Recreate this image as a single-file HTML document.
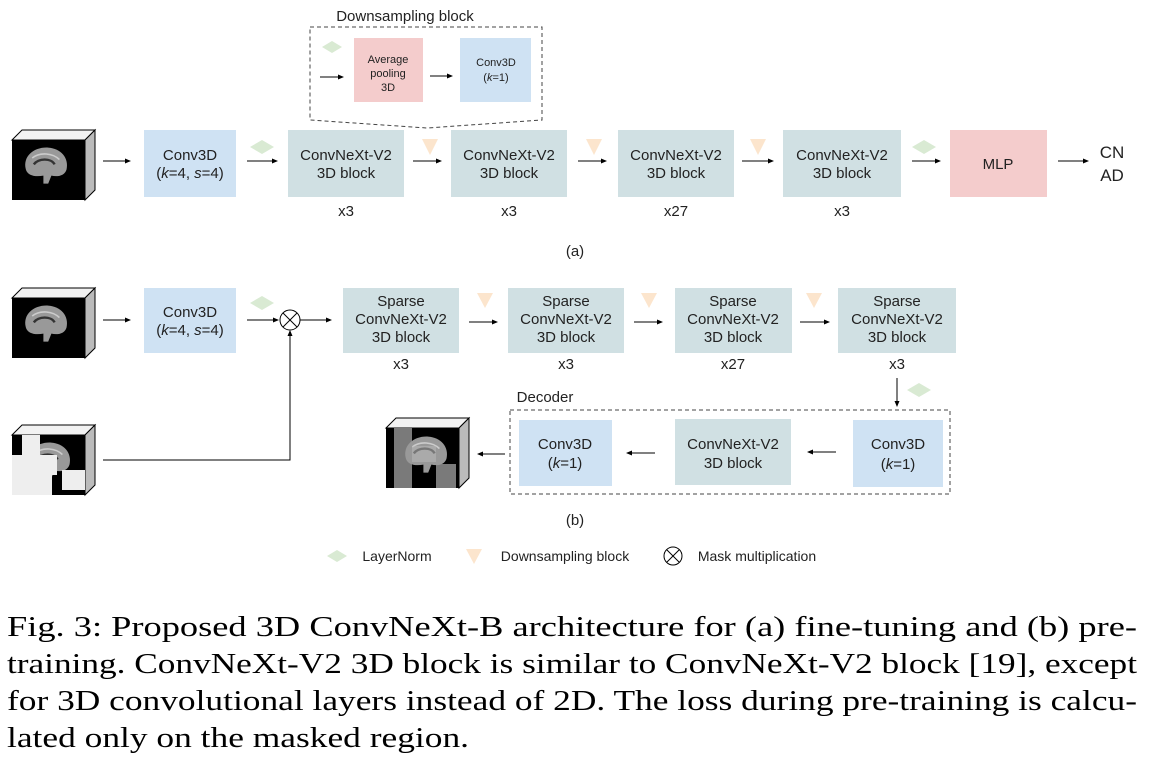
<!DOCTYPE html>
<html><head><meta charset="utf-8"><style>
html,body{margin:0;padding:0;background:#fff;}
svg{display:block;}
.t{font-family:"Liberation Sans",sans-serif;font-size:15px;fill:#222;text-anchor:middle;}
.s{font-family:"Liberation Sans",sans-serif;font-size:11px;fill:#222;text-anchor:middle;}
.c{font-family:"Liberation Serif",serif;font-size:28px;fill:#000;}
</style></head><body>
<svg width="1152" height="768" viewBox="0 0 1152 768" xmlns="http://www.w3.org/2000/svg">
<defs>
<marker id="ah" markerWidth="6" markerHeight="6" refX="5" refY="3" orient="auto" markerUnits="userSpaceOnUse"><path d="M0,0.5 L6,3 L0,5.5 z" fill="#000"/></marker>
<g id="brain" transform="scale(0.8)">
<path d="M-24,4 C-28,-12 -14,-24 4,-23 C20,-22 30,-10 27,4 C25,12 16,14 8,12 L4,22 L-2,22 L-2,12 C-12,14 -22,12 -24,4 z" fill="#999"/>
<path d="M-14,-2 C-8,-10 8,-10 12,-2" stroke="#333" stroke-width="3" fill="none"/>
<path d="M-16,-10 C-6,-18 10,-16 18,-8" stroke="#ccc" stroke-width="2" fill="none"/>
</g>
<g id="cube">
<polygon points="0,10 10,0 83,0 73,10" fill="#f2f2f2" stroke="#000" stroke-width="1"/>
<polygon points="73,10 83,0 83,60 73,70" fill="#bbb" stroke="#000" stroke-width="1"/>
<rect x="0" y="10" width="73" height="60" fill="#000"/>
</g>
</defs>

<!-- (a) -->
<use href="#cube" x="12" y="130"/>
<use href="#brain" x="45" y="166"/>
<line x1="103" y1="161" x2="130" y2="161" stroke="#000" marker-end="url(#ah)"/>
<rect x="144" y="130" width="92" height="67" fill="#cfe2f3"/>
<text class="t" x="190" y="160">Conv3D</text>
<text class="t" x="190" y="178">(<tspan font-style="italic">k</tspan>=4, <tspan font-style="italic">s</tspan>=4)</text>
<polygon points="262,140 274,147 262,154 250,147" fill="#d9ead3"/>
<line x1="247" y1="161" x2="277" y2="161" stroke="#000" marker-end="url(#ah)"/>
<rect x="288" y="130" width="116" height="67" fill="#d0e0e3"/>
<text class="t" x="346" y="160">ConvNeXt-V2</text><text class="t" x="346" y="178">3D block</text>
<text class="t" x="346" y="216">x3</text>
<polygon points="422,139 438,139 430,155" fill="#fce5cd"/>
<line x1="413" y1="161" x2="441" y2="161" stroke="#000" marker-end="url(#ah)"/>
<rect x="451" y="130" width="116" height="67" fill="#d0e0e3"/>
<text class="t" x="509" y="160">ConvNeXt-V2</text><text class="t" x="509" y="178">3D block</text>
<text class="t" x="509" y="216">x3</text>
<polygon points="586,139 602,139 594,155" fill="#fce5cd"/>
<line x1="578" y1="161" x2="606" y2="161" stroke="#000" marker-end="url(#ah)"/>
<rect x="618" y="130" width="116" height="67" fill="#d0e0e3"/>
<text class="t" x="676" y="160">ConvNeXt-V2</text><text class="t" x="676" y="178">3D block</text>
<text class="t" x="676" y="216">x27</text>
<polygon points="750,139 766,139 758,155" fill="#fce5cd"/>
<line x1="742" y1="161" x2="773" y2="161" stroke="#000" marker-end="url(#ah)"/>
<rect x="783" y="130" width="118" height="67" fill="#d0e0e3"/>
<text class="t" x="842" y="160">ConvNeXt-V2</text><text class="t" x="842" y="178">3D block</text>
<text class="t" x="842" y="216">x3</text>
<polygon points="924,140 936,147 924,154 912,147" fill="#d9ead3"/>
<line x1="912" y1="161" x2="940" y2="161" stroke="#000" marker-end="url(#ah)"/>
<rect x="950" y="130" width="97" height="67" fill="#f4cccc"/>
<text class="t" x="998" y="169">MLP</text>
<line x1="1058" y1="161" x2="1088" y2="161" stroke="#000" marker-end="url(#ah)"/>
<text class="t" x="1112" y="158" style="font-size:17px">CN</text>
<text class="t" x="1112" y="181" style="font-size:17px">AD</text>
<text class="t" x="575" y="256">(a)</text>

<!-- downsampling block -->
<text class="t" x="405" y="21">Downsampling block</text>
<path d="M310,27 L542,27 L542,120 L427,128 L310,120 Z" fill="none" stroke="#444" stroke-dasharray="4,3"/>
<polygon points="332,41 342,47 332,53 322,47" fill="#d9ead3"/>
<line x1="320" y1="77" x2="343" y2="77" stroke="#000" marker-end="url(#ah)"/>
<rect x="354" y="38" width="69" height="64" fill="#f4cccc"/>
<text class="s" x="388" y="63">Average</text><text class="s" x="388" y="77">pooling</text><text class="s" x="388" y="91">3D</text>
<line x1="430" y1="76" x2="452" y2="76" stroke="#000" marker-end="url(#ah)"/>
<rect x="460" y="38" width="71" height="64" fill="#cfe2f3"/>
<text class="s" x="496" y="66">Conv3D</text><text class="s" x="496" y="81">(<tspan font-style="italic">k</tspan>=1)</text>

<!-- (b) -->
<use href="#cube" x="12" y="288"/>
<use href="#brain" x="45" y="324"/>
<line x1="103" y1="320" x2="130" y2="320" stroke="#000" marker-end="url(#ah)"/>
<rect x="144" y="288" width="92" height="65" fill="#cfe2f3"/>
<text class="t" x="190" y="317">Conv3D</text>
<text class="t" x="190" y="335">(<tspan font-style="italic">k</tspan>=4, <tspan font-style="italic">s</tspan>=4)</text>
<polygon points="262,296 274,303 262,310 250,303" fill="#d9ead3"/>
<line x1="247" y1="320" x2="278" y2="320" stroke="#000" marker-end="url(#ah)"/>
<circle cx="290" cy="320" r="10" fill="none" stroke="#000"/>
<line x1="283" y1="313" x2="297" y2="327" stroke="#000"/><line x1="297" y1="313" x2="283" y2="327" stroke="#000"/>
<line x1="300" y1="320" x2="331" y2="320" stroke="#000" marker-end="url(#ah)"/>
<polyline points="103,460 290,460 290,331" fill="none" stroke="#000" marker-end="url(#ah)"/>

<rect x="343" y="288" width="116" height="65" fill="#d0e0e3"/>
<text class="t" x="401" y="306">Sparse</text><text class="t" x="401" y="324">ConvNeXt-V2</text><text class="t" x="401" y="342">3D block</text>
<text class="t" x="401" y="369">x3</text>
<polygon points="477,293 493,293 485,308" fill="#fce5cd"/>
<line x1="469" y1="322" x2="497" y2="322" stroke="#000" marker-end="url(#ah)"/>
<rect x="508" y="288" width="116" height="65" fill="#d0e0e3"/>
<text class="t" x="566" y="306">Sparse</text><text class="t" x="566" y="324">ConvNeXt-V2</text><text class="t" x="566" y="342">3D block</text>
<text class="t" x="566" y="369">x3</text>
<polygon points="641,293 657,293 649,308" fill="#fce5cd"/>
<line x1="634" y1="322" x2="662" y2="322" stroke="#000" marker-end="url(#ah)"/>
<rect x="675" y="288" width="117" height="65" fill="#d0e0e3"/>
<text class="t" x="733" y="306">Sparse</text><text class="t" x="733" y="324">ConvNeXt-V2</text><text class="t" x="733" y="342">3D block</text>
<text class="t" x="733" y="369">x27</text>
<polygon points="806,293 822,293 814,308" fill="#fce5cd"/>
<line x1="800" y1="322" x2="829" y2="322" stroke="#000" marker-end="url(#ah)"/>
<rect x="838" y="288" width="118" height="65" fill="#d0e0e3"/>
<text class="t" x="897" y="306">Sparse</text><text class="t" x="897" y="324">ConvNeXt-V2</text><text class="t" x="897" y="342">3D block</text>
<text class="t" x="897" y="369">x3</text>
<line x1="897" y1="378" x2="897" y2="406" stroke="#000" marker-end="url(#ah)"/>
<polygon points="919,383 931,390 919,397 907,390" fill="#d9ead3"/>

<text class="t" x="545" y="402">Decoder</text>
<rect x="510" y="410" width="440" height="84" fill="none" stroke="#444" stroke-dasharray="4,3"/>
<rect x="519" y="420" width="93" height="66" fill="#cfe2f3"/>
<text class="t" x="565" y="449">Conv3D</text><text class="t" x="565" y="468">(<tspan font-style="italic">k</tspan>=1)</text>
<line x1="655" y1="453" x2="627" y2="453" stroke="#000" marker-end="url(#ah)"/>
<rect x="675" y="419" width="116" height="66" fill="#d0e0e3"/>
<text class="t" x="733" y="449">ConvNeXt-V2</text><text class="t" x="733" y="468">3D block</text>
<line x1="836" y1="452" x2="808" y2="452" stroke="#000" marker-end="url(#ah)"/>
<rect x="853" y="420" width="90" height="67" fill="#cfe2f3"/>
<text class="t" x="898" y="449">Conv3D</text><text class="t" x="898" y="469">(<tspan font-style="italic">k</tspan>=1)</text>
<line x1="505" y1="454" x2="478" y2="454" stroke="#000" marker-end="url(#ah)"/>

<!-- output cube -->
<use href="#cube" x="386" y="418"/>
<use href="#brain" x="425" y="455"/>
<rect x="394" y="428" width="18" height="60" fill="#999" opacity="0.8"/>
<rect x="436" y="464" width="20" height="24" fill="#999" opacity="0.8"/>
<rect x="412" y="446" width="24" height="16" fill="#bbb" opacity="0.5"/>

<!-- mask cube -->
<use href="#cube" x="12" y="425"/>
<use href="#brain" x="48" y="461"/>
<rect x="22" y="435" width="18" height="20" fill="#eee"/>
<rect x="12" y="455" width="28" height="35" fill="#eee"/>
<rect x="40" y="455" width="17" height="20" fill="#eee"/>
<rect x="62" y="470" width="23" height="20" fill="#eee"/>
<rect x="12" y="474" width="40" height="21" fill="#eee"/>

<text class="t" x="575" y="525">(b)</text>

<!-- legend -->
<polygon points="337,550 347,556 337,562 327,556" fill="#d9ead3"/>
<text class="t" x="397" y="561" style="font-size:14px">LayerNorm</text>
<polygon points="466,549 482,549 474,564" fill="#fce5cd"/>
<text class="t" x="565" y="561" style="font-size:14px">Downsampling block</text>
<circle cx="673" cy="556" r="9" fill="none" stroke="#000"/>
<line x1="667" y1="550" x2="679" y2="562" stroke="#000"/><line x1="679" y1="550" x2="667" y2="562" stroke="#000"/>
<text class="t" x="757" y="561" style="font-size:14px">Mask multiplication</text>

<!-- caption -->
<text class="c" x="7" y="636" textLength="1130" lengthAdjust="spacingAndGlyphs">Fig. 3: Proposed 3D ConvNeXt-B architecture for (a) fine-tuning and (b) pre-</text>
<text class="c" x="7" y="673" textLength="1130" lengthAdjust="spacingAndGlyphs">training. ConvNeXt-V2 3D block is similar to ConvNeXt-V2 block [19], except</text>
<text class="c" x="7" y="710" textLength="1130" lengthAdjust="spacingAndGlyphs">for 3D convolutional layers instead of 2D. The loss during pre-training is calcu-</text>
<text class="c" x="7" y="747" textLength="462" lengthAdjust="spacingAndGlyphs">lated only on the masked region.</text>
</svg>
</body></html>
